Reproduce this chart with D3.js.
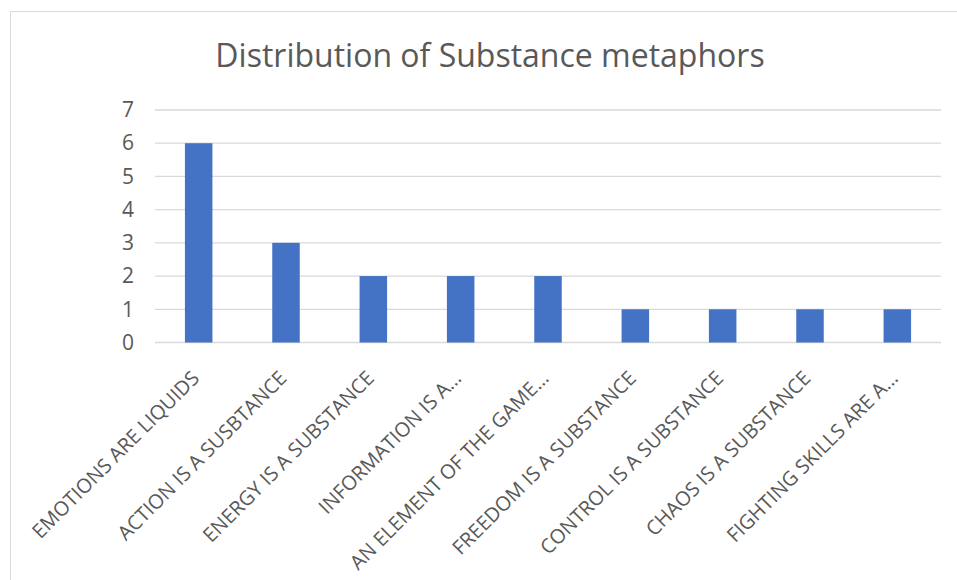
<!DOCTYPE html>
<html>
<head>
<meta charset="utf-8">
<script src="https://cdn.jsdelivr.net/npm/d3@7"></script>
<style>
  html, body { margin: 0; padding: 0; background: #fff; }
  svg { display: block; }
  text { font-family: "Open Sans", "Noto Sans", sans-serif; fill: #595959; }
</style>
</head>
<body>
<svg id="chart" width="957" height="580"></svg>
<script>
// Metaphor categories and their counts
const categories = [
  "EMOTIONS ARE LIQUIDS",
  "ACTION IS A SUSBTANCE",
  "ENERGY IS A SUBSTANCE",
  "INFORMATION IS A…",
  "AN ELEMENT OF THE GAME…",
  "FREEDOM IS A SUBSTANCE",
  "CONTROL IS A SUBSTANCE",
  "CHAOS IS A SUBSTANCE",
  "FIGHTING SKILLS ARE A…"
];
const counts = [6, 3, 2, 2, 2, 1, 1, 1, 1];
const yTicks = [0, 1, 2, 3, 4, 5, 6, 7];
const chartTitle = "Distribution of Substance metaphors";

const FONT = "'Open Sans', 'Noto Sans', sans-serif";
const svg = d3.select("#chart");
const W = 957, H = 580;
const plot = { left: 155, right: 941, top: 110, bottom: 342.5 };

// chart frame
svg.append("rect")
  .attr("x", 10.5).attr("y", 11.5)
  .attr("width", W + 10).attr("height", H + 10)
  .attr("fill", "none").attr("stroke", "#d9d9d9").attr("stroke-width", 1);

const x = d3.scaleBand()
  .domain(categories)
  .range([plot.left, plot.right])
  .paddingInner(0.685)
  .paddingOuter(0.3425);

const y = d3.scaleLinear()
  .domain([0, 7])
  .range([plot.bottom, plot.top]);

// gridlines
svg.append("g")
  .selectAll("line")
  .data(yTicks)
  .join("line")
  .attr("x1", plot.left).attr("x2", plot.right)
  .attr("y1", d => y(d)).attr("y2", d => y(d))
  .attr("stroke", "#d9d9d9").attr("stroke-width", 1.3);

// y axis labels
const yAxis = d3.axisLeft(y).tickValues(yTicks).tickSize(0).tickPadding(0).tickFormat(d3.format("d"));
svg.append("g")
  .attr("transform", `translate(${plot.left - 21},0)`)
  .call(yAxis)
  .call(g => g.select(".domain").remove())
  .call(g => g.selectAll("text")
    .attr("font-size", 21)
    .attr("font-family", FONT)
    .attr("fill", "#595959"));

// bars
svg.append("g")
  .selectAll("rect")
  .data(categories.map((c, i) => ({ c, v: counts[i] })))
  .join("rect")
  .attr("x", d => x(d.c))
  .attr("width", x.bandwidth())
  .attr("y", d => y(d.v))
  .attr("height", d => y(0) - y(d.v))
  .attr("fill", "#4472c4");

// category labels, rotated -45°, ending under each bar
const xAxis = d3.axisBottom(x).tickSize(0).tickPadding(0);
svg.append("g")
  .attr("transform", `translate(0,${plot.bottom})`)
  .call(xAxis)
  .call(g => g.select(".domain").remove())
  .call(g => g.selectAll("text")
    .attr("font-size", 20)
    .attr("font-family", FONT)
    .attr("fill", "#595959")
    .attr("text-anchor", "end")
    .attr("y", 0)
    .attr("dy", "0.35em")
    .attr("transform", "translate(-3,32) rotate(-45)"));

// title
svg.append("text")
  .attr("x", 490).attr("y", 67)
  .attr("text-anchor", "middle")
  .attr("font-size", 32)
  .attr("font-family", FONT)
  .text(chartTitle);
</script>
</body>
</html>
